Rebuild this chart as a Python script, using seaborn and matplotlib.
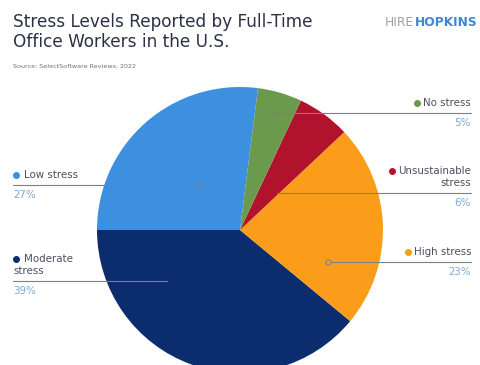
import matplotlib
matplotlib.use("Agg")
import matplotlib.pyplot as plt
import seaborn as sns

# ---- data ----
categories = ["Moderate stress", "High stress", "Unsustainable stress", "No stress", "Low stress"]
values = [39, 23, 6, 5, 27]
pct_labels = ["39%", "23%", "6%", "5%", "27%"]
colors_hex = ["#0b2d6d", "#fb9c1b", "#b2132c", "#6b9a4c", "#3d8fe0"]

title = "Stress Levels Reported by Full-Time\nOffice Workers in the U.S."
source = "Source: SelectSoftware Reviews, 2022"

sns.set_theme(style="white")
plt.rcParams['font.family'] = ['DejaVu Sans']

W, H = 480, 365
fig = plt.figure(figsize=(W / 100, H / 100), dpi=100)
ax = fig.add_axes([0, 0, 1, 1])
palette = sns.color_palette(colors_hex)

cx, cy, R = 240, 135, 143
wedges, _ = ax.pie(values, colors=palette, startangle=180, counterclock=True,
                   center=(cx, cy), radius=R, wedgeprops=dict(linewidth=0),
                   frame=False)
ax.set_xlim(0, W)
ax.set_ylim(0, H)
ax.set_aspect("equal")
ax.axis("off")

# ---- annotation layout (pixel coords, y up) ----
layout = {
    "No stress": dict(side="R", y=252, x0=272, lines=["No stress"], dot=True),
    "Unsustainable stress": dict(side="R", y=172, x0=277, lines=["Unsustainable", "stress"], dot=False),
    "High stress": dict(side="R", y=103, x0=328, lines=["High stress"], dot=True),
    "Low stress": dict(side="L", y=180, x0=200, lines=["Low stress"], dot=True),
    "Moderate stress": dict(side="L", y=84, x0=167, lines=["Moderate", "stress"], dot=False),
}
XL, XR = 13, 471
label_color = "#4a4f5e"
pct_color = "#7ea9d8"
line_color = "#7a7f88"
fs = 7.4
lh = 12.5

texts_to_dot = []
for cat, val, pct, col in zip(categories, values, pct_labels, palette):
    L = layout[cat]
    y = L["y"]
    xe = XR if L["side"] == "R" else XL
    ax.plot([min(L["x0"], xe), max(L["x0"], xe)], [y, y], color=line_color, lw=0.8, zorder=3)
    if L["dot"]:
        ax.scatter([L["x0"]], [y], s=14, facecolor=col, edgecolor=line_color, linewidth=0.7, zorder=4)
    n = len(L["lines"])
    ha = "right" if L["side"] == "R" else "left"
    for i, line in enumerate(L["lines"]):
        ly = y + 5 + (n - 1 - i) * lh + 5
        x = xe
        if L["side"] == "L" and i == 0:
            x = xe + 11
        t = ax.text(x, ly, line, ha=ha, va="center", fontsize=fs, color=label_color)
        if i == 0:
            texts_to_dot.append((t, L["side"], ly, col))
    ax.text(xe, y - 10, pct, ha=ha, va="center", fontsize=fs, color=pct_color)

# ---- titles ----
fig.text(XL / W, 1 - 32 / H, title, ha="left", va="center", fontsize=12.2,
         color="#2d3148", linespacing=1.12)
fig.text(XL / W, 1 - 66 / H, source, ha="left", va="center", fontsize=4.6, color="#6d7180")

# logo
hop = fig.text(478 / W, 1 - 23 / H, "HOPKINS", ha="right", va="center", fontsize=8.8,
               color="#3f86d8", fontweight="bold")

fig.canvas.draw()
inv = ax.transData.inverted()
for t, side, ly, col in texts_to_dot:
    if side == "R":
        bb = t.get_window_extent()
        x0, _ = inv.transform((bb.x0, bb.y0))
        ax.scatter([x0 - 6], [ly], s=16, color=col, zorder=5)
    else:
        ax.scatter([XL + 3], [ly], s=16, color=col, zorder=5)

hb = hop.get_window_extent()
fig.text((hb.x0 - 2) / W, 1 - 23 / H, "HIRE", ha="right", va="center", fontsize=8.8,
         color="#9aa0aa")

fig.savefig("out.png", dpi=100, facecolor="white")
